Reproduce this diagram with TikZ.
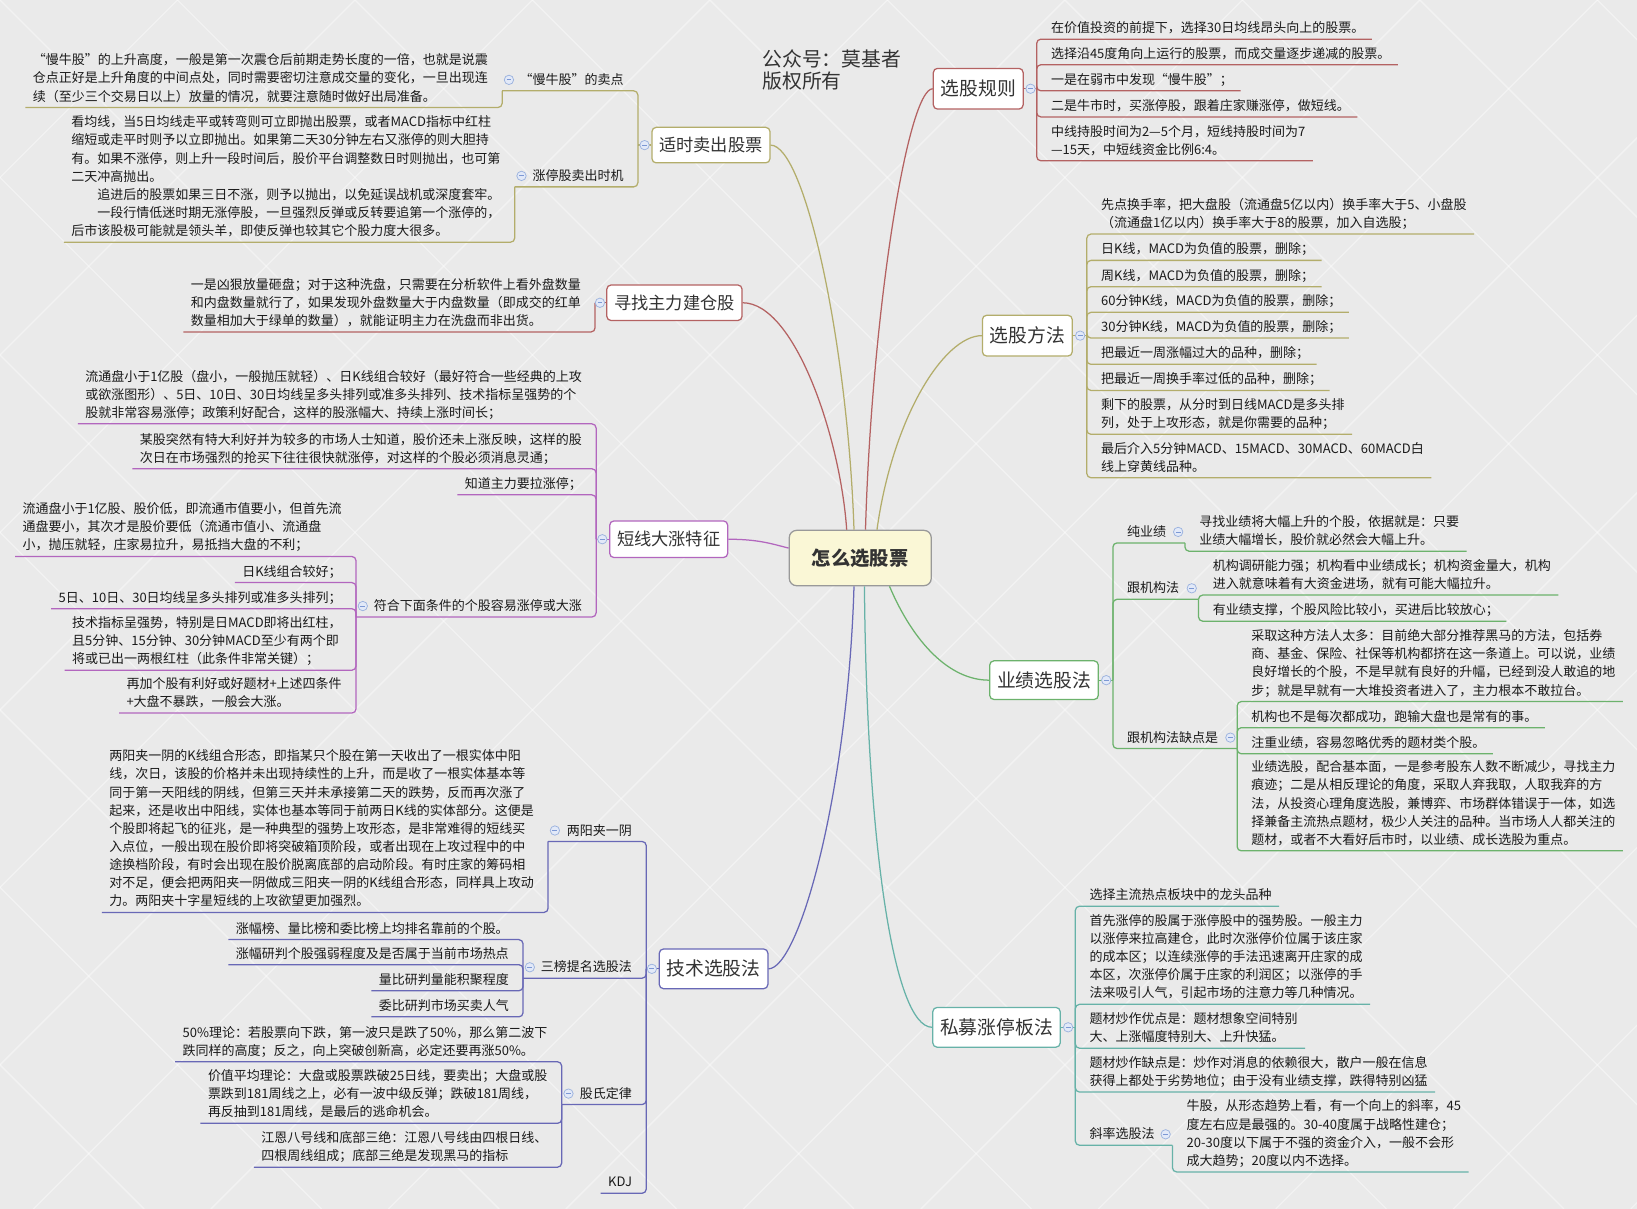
\documentclass[tikz,border=0pt]{standalone}
\usepackage{fontspec}
\setmainfont{Noto Sans CJK SC}
\usetikzlibrary{calc}

\definecolor{cBg}{HTML}{EAEAEA}
\definecolor{cRed}{HTML}{B46262}
\definecolor{cOlive}{HTML}{B3AD6B}
\definecolor{cPurple}{HTML}{B266BE}
\definecolor{cGreen}{HTML}{6CB26C}
\definecolor{cBlue}{HTML}{6868B6}
\definecolor{cTeal}{HTML}{67B2A8}
\definecolor{cTxt}{HTML}{1A1A1A}
\definecolor{cTopic}{HTML}{333333}
\definecolor{cRootFill}{HTML}{FAF7D6}
\definecolor{cRootLine}{HTML}{999999}
\definecolor{cBtnFill}{HTML}{E2E9F8}
\definecolor{cBtnLine}{HTML}{9BB2DE}
\definecolor{cBtnMinus}{HTML}{7C98D4}

\newcommand\leaffnt{\fontsize{12.45}{17.4}\selectfont}
\newcommand\topicfnt{\fontsize{18}{21}\selectfont}
\newcommand\topicsfnt{\fontsize{16.5}{19}\selectfont}
\newcommand\rootfnt{\fontsize{18.5}{21}\selectfont\bfseries}
\newcommand\ustrut{\rule[-3pt]{0pt}{3pt}}

\tikzset{
  leaf/.style={inner xsep=7pt, inner ysep=3pt, align=left, font=\leaffnt, text=cTxt},
  br/.style={line width=1.2pt, rounded corners=4pt},
  collapse/.style={circle, draw=cBtnLine, fill=cBtnFill, line width=0.7pt, minimum size=9pt, inner sep=0pt,
    path picture={\draw[cBtnMinus, line width=0.8pt] ([xshift=-2.3pt]path picture bounding box.center) -- ([xshift=2.3pt]path picture bounding box.center);}},
  topic/.style={draw, fill=white, rounded corners=4pt, line width=1.2pt, inner xsep=7pt, inner ysep=0pt, text=cTopic},
  topicL/.style={topic, minimum height=39pt, font=\topicfnt},
  topicS/.style={topic, minimum height=34pt, font=\topicsfnt},
  rootbox/.style={draw=cRootLine, fill=cRootFill, rounded corners=7pt, line width=1.2pt, minimum width=136pt, minimum height=53pt, font=\rootfnt, text=cTopic},
  conn/.style={line width=1.2pt},
  ttl/.style={font=\fontsize{19}{22}\selectfont, text=cTopic, inner sep=0pt},
  bgline/.style={white, line width=1.3pt, opacity=0.4}
}

\newcommand\rleaf[6]{%
  \node[leaf,anchor=south west] (#1) at (#3+6.5,#5) {#6\ustrut};
  \coordinate (#1p) at (#3,#4);
  \draw[br,#2] (#1p) |- (#1.south east);}
\newcommand\lleaf[6]{%
  \node[leaf,anchor=south east] (#1) at (#3-6.5,#5) {#6\ustrut};
  \coordinate (#1p) at (#3,#4);
  \draw[br,#2] (#1p) |- (#1.south west);}
\newcommand\rlab[7]{%
  \node[leaf,anchor=south west] (#1) at (#3+6.5,#5) {#6\ustrut};
  \coordinate (#1p) at (#3,#4);
  \coordinate (#1g) at (#7,#5);
  \draw[br,#2] (#1p) |- (#1g);
  \node[collapse] (#1c) at (#7-6.5,#5-10.5) {};}
\newcommand\llab[7]{%
  \node[leaf,anchor=south east] (#1) at (#3-6.5,#5) {#6\ustrut};
  \coordinate (#1p) at (#3,#4);
  \coordinate (#1g) at (#7,#5);
  \draw[br,#2] (#1p) |- (#1g);
  \node[collapse] (#1c) at (#7+6.5,#5-10.5) {};}

\begin{document}
\begin{tikzpicture}[x=1pt,y=-1pt]
\useasboundingbox (0,0) rectangle (1568,1158);
% background
\fill[cBg] (0,0) rectangle (1568,1158);
\begin{scope}
\clip (0,0) rectangle (1568,1158);
\foreach \i in {-1190,-1020,...,2760} {
  \draw[bgline] (\i,0) -- ++(1158,1158);
  \draw[bgline] (\i,0) -- ++(-1158,1158);
}
\end{scope}

% title
\node[ttl,anchor=base west] (ttl1) at (730,64) {公众号：莫基者};
\node[ttl,anchor=base west] (ttl2) at (730,85) {版权所有};

% root and main topics
\node[rootbox] (root) at (824,534.5) {怎么选股票};
\node[topicL,draw=cRed]    (t1) at (937,85)    {选股规则};
\node[topicS,draw=cOlive]  (t2) at (681,139)   {适时卖出股票};
\node[topicS,draw=cRed]    (t3) at (646,290)   {寻找主力建仓股};
\node[topicL,draw=cOlive]  (t4) at (984,321.5) {选股方法};
\node[topicS,draw=cPurple,minimum height=35pt] (t5) at (640.5,516.5) {短线大涨特征};
\node[topicL,draw=cGreen,minimum height=37pt]  (t6) at (1000,651.5) {业绩选股法};
\node[topicL,draw=cBlue,minimum height=38pt]   (t7) at (683.5,928)  {技术选股法};
\node[topicL,draw=cTeal,minimum height=38pt]   (t8) at (954.5,984)  {私募涨停板法};

% connectors from root
\draw[conn,cRed]    ([xshift=5pt]root.north)  .. controls +(6,-208) and +(-24,0) .. (t1.west);
\draw[conn,cOlive]  ([xshift=-6pt]root.north) .. controls +(-6,-178) and +(33,0) .. (t2.east);
\draw[conn,cRed]    ([xshift=-13pt]root.north) .. controls +(-6,-88) and +(50,0) .. (t3.east);
\draw[conn,cOlive]  ([xshift=16pt]root.north) .. controls +(15,-108) and +(-36,0) .. (t4.west);
\draw[conn,cPurple] ([yshift=9.5pt]root.west) .. controls +(-16,-4) and +(29,0) .. (t5.east);
\draw[conn,cGreen]  ([xshift=28pt]root.south) .. controls +(23,54) and +(-38,0) .. (t6.west);
\draw[conn,cBlue]   ([xshift=-6pt]root.south) .. controls +(-6,199) and +(29,0) .. (t7.east);
\draw[conn,cTeal]   ([xshift=4pt]root.south)  .. controls +(2,239) and +(-38,0) .. (t8.west);

% spine anchors of main topics
\coordinate (t1s) at (993,85);
\coordinate (t2s) at (611,139);
\coordinate (t3s) at (570,290);
\coordinate (t4s) at (1041,321.5);
\coordinate (t5s) at (571,516.5);
\coordinate (t6s) at (1066,651.5);
\coordinate (t7s) at (619,928);
\coordinate (t8s) at (1030,984);
\draw[br,cRed]    (t1.east) -- (t1s);
\draw[br,cOlive]  (t2.west) -- (t2s);
\draw[br,cRed]    (t3.west) -- (t3s);
\draw[br,cOlive]  (t4.east) -- (t4s);
\draw[br,cPurple] (t5.west) -- (t5s);
\draw[br,cGreen]  (t6.east) -- (t6s);
\draw[br,cBlue]   (t7.west) -- (t7s);
\draw[br,cTeal]   (t8.east) -- (t8s);

% ---------- 选股规则 ----------
\rleaf{a1}{cRed}{993}{85}{37.5}{在价值投资的前提下，选择30日均线昂头向上的股票。}
\rleaf{a2}{cRed}{993}{85}{62}{选择沿45度角向上运行的股票，而成交量逐步递减的股票。}
\rleaf{a3}{cRed}{993}{85}{87}{一是在弱市中发现“慢牛股”；}
\rleaf{a4}{cRed}{993}{85}{112}{二是牛市时，买涨停股，跟着庄家赚涨停，做短线。}
\rleaf{a5}{cRed}{993}{85}{154}{中线持股时间为2—5个月，短线持股时间为7\\—15天，中短线资金比例6:4。}

% ---------- 适时卖出股票 ----------
\llab{b1}{cOlive}{611}{139}{87}{“慢牛股”的卖点}{481}
\lleaf{b1x}{cOlive}{481}{87}{103}{“慢牛股”的上升高度，一般是第一次震仓后前期走势长度的一倍，也就是说震\\仓点正好是上升角度的中间点处，同时需要密切注意成交量的变化，一旦出现连\\续（至少三个交易日以上）放量的情况，就要注意随时做好出局准备。}
\llab{b2}{cOlive}{611}{139}{179}{涨停股卖出时机}{493}
\lleaf{b2x}{cOlive}{493}{179}{232}{看均线，当5日均线走平或转弯则可立即抛出股票，或者MACD指标中红柱\\缩短或走平时则予以立即抛出。如果第二天30分钟左右又涨停的则大胆持\\有。如果不涨停，则上升一段时间后，股价平台调整数日时则抛出，也可第\\二天冲高抛出。\\　　追进后的股票如果三日不涨，则予以抛出，以免延误战机或深度套牢。\\　　一段行情低迷时期无涨停股，一旦强烈反弹或反转要追第一个涨停的，\\后市该股极可能就是领头羊，即使反弹也较其它个股力度大很多。}

% ---------- 寻找主力建仓股 ----------
\lleaf{c1}{cRed}{570}{290}{318}{一是凶狠放量砸盘；对于这种洗盘，只需要在分析软件上看外盘数量\\和内盘数量就行了，如果发现外盘数量大于内盘数量（即成交的红单\\数量相加大于绿单的数量），就能证明主力在洗盘而非出货。}

% ---------- 选股方法 ----------
\rleaf{d1}{cOlive}{1041}{321.5}{224.2}{先点换手率，把大盘股（流通盘5亿以内）换手率大于5、小盘股\\（流通盘1亿以内）换手率大于8的股票，加入自选股；}
\rleaf{d2}{cOlive}{1041}{321.5}{249.4}{日K线，MACD为负值的股票，删除；}
\rleaf{d3}{cOlive}{1041}{321.5}{274.6}{周K线，MACD为负值的股票，删除；}
\rleaf{d4}{cOlive}{1041}{321.5}{299.2}{60分钟K线，MACD为负值的股票，删除；}
\rleaf{d5}{cOlive}{1041}{321.5}{323.8}{30分钟K线，MACD为负值的股票，删除；}
\rleaf{d6}{cOlive}{1041}{321.5}{349}{把最近一周涨幅过大的品种，删除；}
\rleaf{d7}{cOlive}{1041}{321.5}{374}{把最近一周换手率过低的品种，删除；}
\rleaf{d8}{cOlive}{1041}{321.5}{416}{剩下的股票，从分时到日线MACD是多头排\\列，处于上攻形态，就是你需要的品种；}
\rleaf{d9}{cOlive}{1041}{321.5}{457.6}{最后介入5分钟MACD、15MACD、30MACD、60MACD白\\线上穿黄线品种。}

% ---------- 短线大涨特征 ----------
\lleaf{e1}{cPurple}{571}{516.5}{406}{流通盘小于1亿股（盘小，一般抛压就轻）、日K线组合较好（最好符合一些经典的上攻\\或欲涨图形）、5日、10日、30日均线呈多头排列或准多头排列、技术指标呈强势的个\\股就非常容易涨停；政策利好配合，这样的股涨幅大、持续上涨时间长；}
\lleaf{e2}{cPurple}{571}{516.5}{449}{某股突然有特大利好并为较多的市场人士知道，股价还未上涨反映，这样的股\\次日在市场强烈的抢买下往往很快就涨停，对这样的个股必须消息灵通；}
\lleaf{e3}{cPurple}{571}{516.5}{474}{知道主力要拉涨停；}
\llab{e4}{cPurple}{571}{516.5}{591}{符合下面条件的个股容易涨停或大涨}{341}
\lleaf{e4a}{cPurple}{341}{591}{533}{流通盘小于1亿股、股价低，即流通市值要小，但首先流\\通盘要小，其次才是股价要低（流通市值小、流通盘\\小，抛压就轻，庄家易拉升，易抵挡大盘的不利；}
\lleaf{e4b}{cPurple}{341}{591}{558}{日K线组合较好；}
\lleaf{e4c}{cPurple}{341}{591}{583}{5日、10日、30日均线呈多头排列或准多头排列；}
\lleaf{e4d}{cPurple}{341}{591}{642}{技术指标呈强势，特别是日MACD即将出红柱，\\且5分钟、15分钟、30分钟MACD至少有两个即\\将或已出一两根红柱（此条件非常关键）；}
\lleaf{e4e}{cPurple}{341}{591}{683}{再加个股有利好或好题材+上述四条件\\+大盘不暴跌，一般会大涨。}

% ---------- 业绩选股法 ----------
\rlab{f1}{cGreen}{1066}{651.5}{520}{纯业绩}{1135}
\rleaf{f1a}{cGreen}{1135}{520}{528}{寻找业绩将大幅上升的个股，依据就是：只要\\业绩大幅增长，股价就必然会大幅上升。}
\rlab{f2}{cGreen}{1066}{651.5}{574}{跟机构法}{1148}
\rleaf{f2a}{cGreen}{1148}{574}{570}{机构调研能力强；机构看中业绩成长；机构资金量大，机构\\进入就意味着有大资金进场，就有可能大幅拉升。}
\rleaf{f2b}{cGreen}{1148}{574}{595}{有业绩支撑，个股风险比较小，买进后比较放心；}
\rlab{f3}{cGreen}{1066}{651.5}{717}{跟机构法缺点是}{1185}
\rleaf{f3a}{cGreen}{1185}{717}{672}{采取这种方法人太多：目前绝大部分推荐黑马的方法，包括券\\商、基金、保险、社保等机构都挤在这一条道上。可以说，业绩\\良好增长的个股，不是早就有良好的升幅，已经到没人敢追的地\\步；就是早就有一大堆投资者进入了，主力根本不敢拉台。}
\rleaf{f3b}{cGreen}{1185}{717}{697}{机构也不是每次都成功，跑输大盘也是常有的事。}
\rleaf{f3c}{cGreen}{1185}{717}{722}{注重业绩，容易忽略优秀的题材类个股。}
\rleaf{f3d}{cGreen}{1185}{717}{815}{业绩选股，配合基本面，一是参考股东人数不断减少，寻找主力\\痕迹；二是从相反理论的角度，采取人弃我取，人取我弃的方\\法，从投资心理角度选股，兼博弈、市场群体错误于一体，如选\\择兼备主流热点题材，极少人关注的品种。当市场人人都关注的\\题材，或者不大看好后市时，以业绩、成长选股为重点。}

% ---------- 技术选股法 ----------
\llab{g1}{cBlue}{619}{928}{806}{两阳夹一阴}{525}
\lleaf{g1a}{cBlue}{525}{806}{874}{两阳夹一阴的K线组合形态，即指某只个股在第一天收出了一根实体中阳\\线，次日，该股的价格并未出现持续性的上升，而是收了一根实体基本等\\同于第一天阳线的阴线，但第三天并未承接第二天的跌势，反而再次涨了\\起来，还是收出中阳线，实体也基本等同于前两日K线的实体部分。这便是\\个股即将起飞的征兆，是一种典型的强势上攻形态，是非常难得的短线买\\入点位，一般出现在股价即将突破箱顶阶段，或者出现在上攻过程中的中\\途换档阶段，有时会出现在股价脱离底部的启动阶段。有时庄家的筹码相\\对不足，便会把两阳夹一阴做成三阳夹一阴的K线组合形态，同样具上攻动\\力。两阳夹十字星短线的上攻欲望更加强烈。}
\llab{g2}{cBlue}{619}{928}{937}{三榜提名选股法}{501}
\lleaf{g2a}{cBlue}{501}{937}{900}{涨幅榜、量比榜和委比榜上均排名靠前的个股。}
\lleaf{g2b}{cBlue}{501}{937}{924}{涨幅研判个股强弱程度及是否属于当前市场热点}
\lleaf{g2c}{cBlue}{501}{937}{949}{量比研判量能积聚程度}
\lleaf{g2d}{cBlue}{501}{937}{974}{委比研判市场买卖人气}
\llab{g3}{cBlue}{619}{928}{1058}{股氏定律}{538}
\lleaf{g3a}{cBlue}{538}{1058}{1017}{50\%理论：若股票向下跌，第一波只是跌了50\%，那么第二波下\\跌同样的高度；反之，向上突破创新高，必定还要再涨50\%。}
\lleaf{g3b}{cBlue}{538}{1058}{1076}{价值平均理论：大盘或股票跌破25日线，要卖出；大盘或股\\票跌到181周线之上，必有一波中级反弹；跌破181周线，\\再反抽到181周线，是最后的逃命机会。}
\lleaf{g3c}{cBlue}{538}{1058}{1118}{江恩八号线和底部三绝：江恩八号线由四根日线、\\四根周线组成；底部三绝是发现黑马的指标}
\lleaf{g4}{cBlue}{619}{928}{1143}{KDJ}

% ---------- 私募涨停板法 ----------
\rleaf{h1}{cTeal}{1030}{984}{868}{选择主流热点板块中的龙头品种}
\rleaf{h2}{cTeal}{1030}{984}{962}{首先涨停的股属于涨停股中的强势股。一般主力\\以涨停来拉高建仓，此时次涨停价位属于该庄家\\的成本区；以连续涨停的手法迅速离开庄家的成\\本区，次涨停价属于庄家的利润区；以涨停的手\\法来吸引人气，引起市场的注意力等几种情况。}
\rleaf{h3}{cTeal}{1030}{984}{1004}{题材炒作优点是：题材想象空间特别\\大、上涨幅度特别大、上升快猛。}
\rleaf{h4}{cTeal}{1030}{984}{1046}{题材炒作缺点是：炒作对消息的依赖很大，散户一般在信息\\获得上都处于劣势地位；由于没有业绩支撑，跌得特别凶猛}
\rlab{h5}{cTeal}{1030}{984}{1097}{斜率选股法}{1123}
\rleaf{h5a}{cTeal}{1123}{1097}{1122.5}{牛股，从形态趋势上看，有一个向上的斜率，45\\度左右应是最强的。30-40度属于战略性建仓；\\20-30度以下属于不强的资金介入，一般不会形\\成大趋势；20度以内不选择。}

% collapse buttons of main topics
\node[collapse] (t1c) at ([xshift=6.5pt]t1.east) {};
\node[collapse] (t2c) at ([xshift=-6.5pt]t2.west) {};
\node[collapse] (t3c) at ([xshift=-6pt]t3.west) {};
\node[collapse] (t4c) at ([xshift=7pt]t4.east) {};
\node[collapse] (t5c) at ([xshift=-6.5pt]t5.west) {};
\node[collapse] (t6c) at ([xshift=7pt]t6.east) {};
\node[collapse] (t7c) at ([xshift=-6.5pt]t7.west) {};
\node[collapse] (t8c) at ([xshift=7pt]t8.east) {};
\end{tikzpicture}
\end{document}
